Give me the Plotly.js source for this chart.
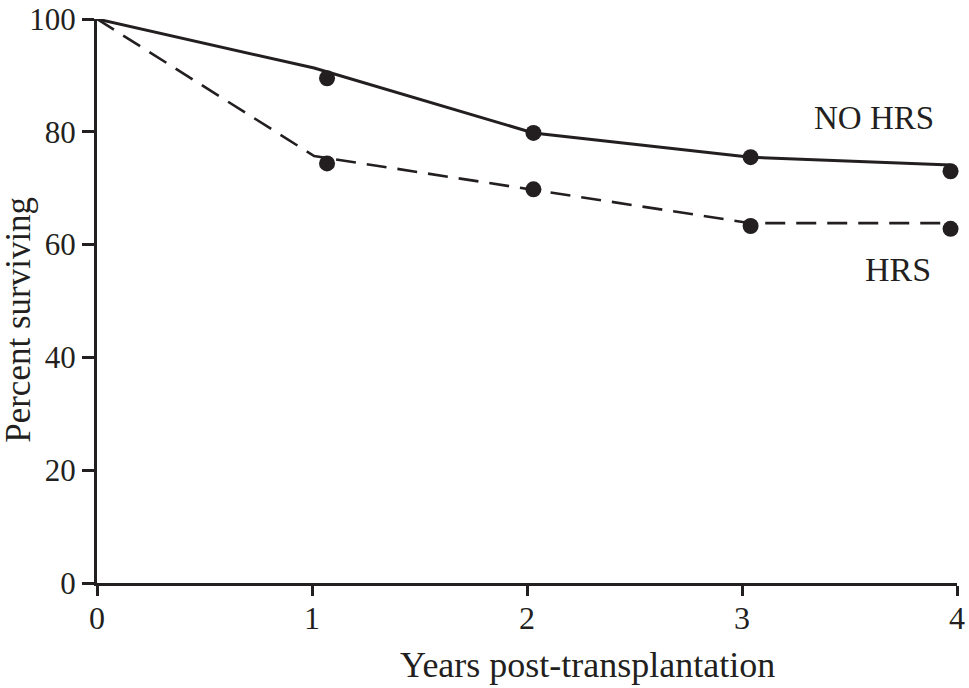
<!DOCTYPE html>
<html>
<head>
<meta charset="utf-8">
<script src="https://cdn.plot.ly/plotly-3.0.1.min.js"></script>
<style>html,body{margin:0;padding:0;background:#fff;}#chart{width:969px;height:688px;}</style>
</head>
<body>
<div id="chart"></div>
<script>
// Survival curves (years post-transplantation, percent surviving)
const noHrsLineYears = [0, 1.01, 2.03, 3.04, 3.97];
const noHrsLinePct   = [100, 91.3, 79.8, 75.5, 74.1];
const hrsLineYears   = [0, 1.01, 2.03, 3.04, 3.97];
const hrsLinePct     = [100, 75.7, 69.7, 63.8, 63.8];

// Observed points
const noHrsPointYears = [1.07, 2.03, 3.04, 3.97];
const noHrsPointPct   = [89.5, 79.8, 75.5, 73.0];
const hrsPointYears   = [1.07, 2.03, 3.04, 3.97];
const hrsPointPct     = [74.4, 69.8, 63.3, 62.8];

const xTickVals = [0, 1, 2, 3, 4];
const xTickText = ['0', '1', '2', '3', '4'];
const yTickVals = [0, 20, 40, 60, 80, 100];
const yTickText = ['0', '20', '40', '60', '80', '100'];

const INK = '#231f20';
const FONT = 'Liberation Serif, Times New Roman, serif';

const traces = [
  {x: noHrsLineYears, y: noHrsLinePct, mode: 'lines', line: {color: INK, width: 3}, cliponaxis: false, hoverinfo: 'skip'},
  {x: hrsLineYears, y: hrsLinePct, mode: 'lines', line: {color: INK, width: 2.6, dash: '20px,11px'}, cliponaxis: false, hoverinfo: 'skip'},
  {x: noHrsPointYears, y: noHrsPointPct, mode: 'markers', marker: {color: INK, size: 16}, cliponaxis: false},
  {x: hrsPointYears, y: hrsPointPct, mode: 'markers', marker: {color: INK, size: 16}, cliponaxis: false}
];

const layout = {
  width: 969, height: 688,
  margin: {l: 97, r: 12, t: 19, b: 105},
  paper_bgcolor: '#fff', plot_bgcolor: '#fff',
  showlegend: false,
  font: {family: FONT, color: INK, size: 31},
  xaxis: {
    range: [0, 4], tickvals: xTickVals, ticktext: xTickText,
    showgrid: false, zeroline: false, showline: true, linecolor: INK, linewidth: 3,
    ticks: 'outside', ticklen: 10, tickwidth: 3, tickcolor: INK,
    ticklabeloverflow: 'allow', ticklabelstandoff: -5,
    tickfont: {family: FONT, size: 32, color: INK}, fixedrange: true
  },
  yaxis: {
    range: [0, 100], tickvals: yTickVals, ticktext: yTickText,
    showgrid: false, zeroline: false, showline: true, linecolor: INK, linewidth: 3,
    ticks: 'outside', ticklen: 12, tickwidth: 3, tickcolor: INK,
    ticklabeloverflow: 'allow',
    tickfont: {family: FONT, size: 31, color: INK}, fixedrange: true
  },
  annotations: [
    {text: 'Percent surviving', xref: 'paper', yref: 'paper', x: -0.0908, y: 0.4665, textangle: -90,
     showarrow: false, xanchor: 'center', yanchor: 'middle', font: {family: FONT, size: 35, color: INK}},
    {text: 'Years post-transplantation', xref: 'paper', yref: 'paper', x: 0.5709, y: -0.1455,
     showarrow: false, xanchor: 'center', yanchor: 'middle', font: {family: FONT, size: 36, color: INK}},
    {text: 'NO HRS', xref: 'paper', yref: 'paper', x: 0.9034, y: 0.8245,
     showarrow: false, xanchor: 'center', yanchor: 'middle', font: {family: FONT, size: 33, color: INK}},
    {text: 'HRS', xref: 'paper', yref: 'paper', x: 0.9313, y: 0.5567,
     showarrow: false, xanchor: 'center', yanchor: 'middle', font: {family: FONT, size: 34, color: INK}}
  ]
};

Plotly.newPlot('chart', traces, layout, {displayModeBar: false, staticPlot: true});
</script>
</body>
</html>
